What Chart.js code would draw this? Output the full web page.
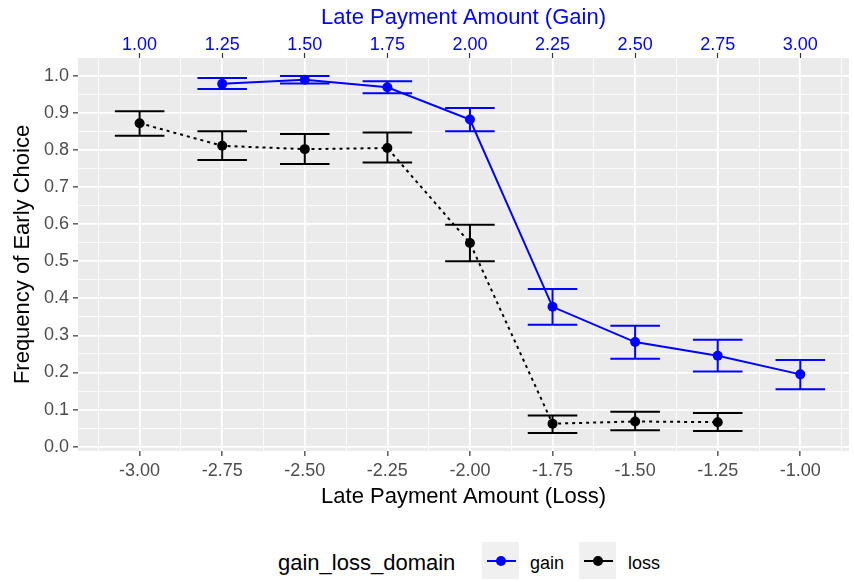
<!DOCTYPE html>
<html>
<head>
<meta charset="utf-8">
<script src="https://cdn.jsdelivr.net/npm/chart.js@4.4.1/dist/chart.umd.min.js"></script>
<style>
    body { margin: 0; background: #fff; font-family: "Liberation Sans", Arial, sans-serif; }
    #wrap { position: relative; width: 854px; height: 582px; overflow: hidden; }
    #chart { position: absolute; left: 0; top: 0; }
    .leg-title { position: absolute; left: 278px; top: 550px; font-size: 22px; line-height: 26px; color: #000; }
    .leg-key { position: absolute; top: 542px; width: 37px; height: 37px; background: #F0F0F0; }
    .leg-key .ln { position: absolute; left: 5px; top: 18px; width: 29px; height: 2px; }
    .leg-key .dot { position: absolute; left: 14px; top: 14px; width: 10px; height: 10px; border-radius: 50%; }
    .leg-label { position: absolute; top: 552px; font-size: 18px; line-height: 22px; color: #000; }
</style>
</head>
<body>
<div id="wrap">
    <canvas id="chart" width="854" height="510"></canvas>
    <div class="leg-title">gain_loss_domain</div>
    <div class="leg-key" style="left:482px"><div class="ln" style="background:#0000FF"></div><div class="dot" style="background:#0000FF"></div></div>
    <div class="leg-label" style="left:530px">gain</div>
    <div class="leg-key" style="left:579px"><div class="ln" style="background:#000"></div><div class="dot" style="background:#000"></div></div>
    <div class="leg-label" style="left:628px">loss</div>
</div>
<script>
// axis breaks
const lossTicks = [-3.00, -2.75, -2.50, -2.25, -2.00, -1.75, -1.50, -1.25, -1.00];
const gainTicks = [1.00, 1.25, 1.50, 1.75, 2.00, 2.25, 2.50, 2.75, 3.00];
const yTicks = [0.0, 0.1, 0.2, 0.3, 0.4, 0.5, 0.6, 0.7, 0.8, 0.9, 1.0];

// gain domain (x on the loss scale, top axis = x + 4)
const gainX = [-2.75, -2.50, -2.25, -2.00, -1.75, -1.50, -1.25, -1.00];
const gainMean = [0.978, 0.989, 0.969, 0.882, 0.377, 0.282, 0.245, 0.195];
const gainLow = [0.964, 0.979, 0.953, 0.850, 0.329, 0.237, 0.203, 0.155];
const gainHigh = [0.994, 0.999, 0.985, 0.913, 0.425, 0.326, 0.288, 0.234];

// loss domain
const lossX = [-3.00, -2.75, -2.50, -2.25, -2.00, -1.75, -1.50, -1.25];
const lossMean = [0.872, 0.811, 0.802, 0.805, 0.549, 0.062, 0.068, 0.066];
const lossLow = [0.838, 0.773, 0.762, 0.766, 0.500, 0.037, 0.044, 0.042];
const lossHigh = [0.904, 0.850, 0.843, 0.847, 0.598, 0.084, 0.094, 0.091];

const xMin = -3.1865, xMax = -0.8526;
const yMin = -0.0116, yMax = 1.0477;
const shift = gainTicks[0] - lossTicks[0];
const capHalf = 0.075;

Chart.defaults.font.family = '"Liberation Sans", Arial, sans-serif';

// majors plus the midpoints between them (ggplot minor grid)
function withMinor(majors, lo, hi) {
    const step = majors[1] - majors[0];
    const out = [];
    for (let v = majors[0] - step / 2; v >= lo; v -= step / 2) out.unshift(v);
    majors.forEach(m => {
        out.push(m);
        out.push(m + step / 2);
    });
    let v = majors[majors.length - 1] + step;
    while (v <= hi) { out.push(v); v += step / 2; }
    return out.filter(t => t >= lo && t <= hi);
}

function isMajor(v, majors) {
    return majors.some(m => Math.abs(m - v) < 1e-6);
}

const bgPlugin = {
    id: 'panelBg',
    beforeDraw(chart) {
        const { ctx, chartArea: a } = chart;
        ctx.save();
        ctx.fillStyle = '#EBEBEB';
        ctx.fillRect(a.left, a.top, a.right - a.left, a.bottom - a.top);
        ctx.restore();
    }
};

const errorBars = {
    id: 'errorBars',
    beforeDatasetsDraw(chart) {
        const { ctx, chartArea: a } = chart;
        const xs = chart.scales.x, ys = chart.scales.y;
        ctx.save();
        ctx.beginPath();
        ctx.rect(a.left, a.top, a.right - a.left, a.bottom - a.top);
        ctx.clip();
        chart.data.datasets.forEach(ds => {
            ctx.strokeStyle = ds.borderColor;
            ctx.lineWidth = 2;
            ds.data.forEach((p, i) => {
                const px = xs.getPixelForValue(p.x);
                const l = xs.getPixelForValue(p.x - capHalf);
                const r = xs.getPixelForValue(p.x + capHalf);
                const yl = ys.getPixelForValue(ds.errLow[i]);
                const yh = ys.getPixelForValue(ds.errHigh[i]);
                ctx.beginPath();
                ctx.moveTo(l, yh); ctx.lineTo(r, yh);
                ctx.moveTo(px, yh); ctx.lineTo(px, yl);
                ctx.moveTo(l, yl); ctx.lineTo(r, yl);
                ctx.stroke();
            });
        });
        ctx.restore();
    }
};

const gridOpts = majors => ({
    color: '#FFFFFF',
    lineWidth: c => (c.tick && isMajor(c.tick.value, majors)) ? 1.7 : 0.8,
    tickLength: 5,
    tickWidth: 1.2,
    tickColor: c => (c.tick && isMajor(c.tick.value, majors)) ? '#333333' : 'rgba(0,0,0,0)'
});

new Chart('chart', {
    type: 'line',
    data: {
        datasets: [
            {
                label: 'gain',
                data: gainX.map((x, i) => ({ x: x, y: gainMean[i] })),
                errLow: gainLow,
                errHigh: gainHigh,
                borderColor: '#0000FF',
                backgroundColor: '#0000FF',
                borderWidth: 2,
                pointRadius: 5,
                pointBorderWidth: 0,
                tension: 0
            },
            {
                label: 'loss',
                data: lossX.map((x, i) => ({ x: x, y: lossMean[i] })),
                errLow: lossLow,
                errHigh: lossHigh,
                borderColor: '#000000',
                backgroundColor: '#000000',
                borderWidth: 2,
                borderDash: [3, 4],
                pointRadius: 5,
                pointBorderWidth: 0,
                tension: 0
            }
        ]
    },
    options: {
        responsive: false,
        animation: false,
        layout: { padding: 0 },
        plugins: {
            legend: { display: false },
            tooltip: { enabled: false }
        },
        scales: {
            x: {
                type: 'linear',
                position: 'bottom',
                min: xMin,
                max: xMax,
                afterBuildTicks: s => { s.ticks = withMinor(lossTicks, xMin, xMax).map(v => ({ value: v })); },
                afterFit: s => { s.height = 59; },
                ticks: {
                    autoSkip: false, maxRotation: 0, minRotation: 0,
                    color: '#4D4D4D', font: { size: 18 }, padding: 4,
                    callback: v => isMajor(v, lossTicks) ? v.toFixed(2) : ''
                },
                grid: gridOpts(lossTicks),
                border: { display: false },
                title: { display: true, text: 'Late Payment Amount (Loss)', color: '#000', font: { size: 22 }, padding: { top: 0, bottom: 0 } }
            },
            x2: {
                type: 'linear',
                position: 'top',
                min: xMin + shift,
                max: xMax + shift,
                afterBuildTicks: s => { s.ticks = gainTicks.map(v => ({ value: v })); },
                afterFit: s => { s.height = 58; },
                ticks: {
                    autoSkip: false, maxRotation: 0, minRotation: 0,
                    color: '#0000FF', font: { size: 18 }, padding: -3,
                    callback: v => v.toFixed(2)
                },
                grid: { drawOnChartArea: false, tickLength: 5, tickWidth: 1.2, tickColor: '#333333' },
                border: { display: false },
                title: { display: true, text: 'Late Payment Amount (Gain)', color: '#0000FF', font: { size: 22 }, padding: { top: 5, bottom: 0 } }
            },
            y: {
                type: 'linear',
                min: yMin,
                max: yMax,
                afterBuildTicks: s => { s.ticks = withMinor(yTicks, yMin, yMax).map(v => ({ value: v })); },
                afterFit: s => { s.width = 78; },
                ticks: {
                    autoSkip: false,
                    color: '#4D4D4D', font: { size: 18 }, padding: 4,
                    callback: v => isMajor(v, yTicks) ? v.toFixed(1) : ''
                },
                grid: gridOpts(yTicks),
                border: { display: false },
                title: { display: true, text: 'Frequency of Early Choice', color: '#000', font: { size: 22 }, padding: { top: 10, bottom: 0 } }
            }
        }
    },
    plugins: [bgPlugin, errorBars]
});
</script>
</body>
</html>
